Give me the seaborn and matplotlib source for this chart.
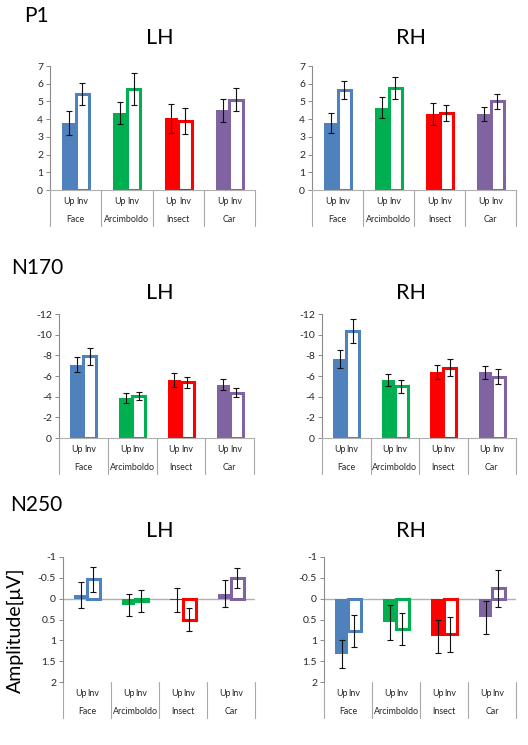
import numpy as np
import pandas as pd
import seaborn as sns
import matplotlib
matplotlib.use("Agg")
import matplotlib.pyplot as plt
from matplotlib.transforms import blended_transform_factory

sns.set_style("white")
plt.rcParams['font.family'] = ['Lato', 'DejaVu Sans']

categories = ['Face', 'Arcimboldo', 'Insect', 'Car']
conditions = ['Up', 'Inv']
cat_colors = ['#4F81BD', '#00B050', '#FF0000', '#8064A2']

# P1 (µV)
p1_lh_up = [3.8, 4.35, 4.05, 4.5]
p1_lh_inv = [5.4, 5.7, 3.9, 5.1]
p1_lh_up_err = [0.67, 0.62, 0.83, 0.65]
p1_lh_inv_err = [0.62, 0.92, 0.72, 0.65]
p1_rh_up = [3.8, 4.65, 4.3, 4.3]
p1_rh_inv = [5.65, 5.75, 4.35, 5.0]
p1_rh_up_err = [0.57, 0.58, 0.62, 0.4]
p1_rh_inv_err = [0.52, 0.62, 0.45, 0.42]

# N170
n170_lh_up = [-7.1, -3.9, -5.6, -5.15]
n170_lh_inv = [-7.9, -4.1, -5.4, -4.4]
n170_lh_up_err = [0.75, 0.5, 0.7, 0.55]
n170_lh_inv_err = [0.8, 0.4, 0.55, 0.45]
n170_rh_up = [-7.65, -5.6, -6.4, -6.35]
n170_rh_inv = [-10.35, -5.0, -6.8, -5.95]
n170_rh_up_err = [0.9, 0.6, 0.7, 0.65]
n170_rh_inv_err = [1.15, 0.65, 0.8, 0.7]

# N250
n250_lh_up = [-0.08, 0.15, 0.03, -0.12]
n250_lh_inv = [-0.47, 0.05, 0.5, -0.5]
n250_lh_up_err = [0.31, 0.26, 0.29, 0.32]
n250_lh_inv_err = [0.3, 0.26, 0.27, 0.24]
n250_rh_up = [1.32, 0.56, 0.9, 0.45]
n250_rh_inv = [0.77, 0.73, 0.85, -0.25]
n250_rh_up_err = [0.34, 0.42, 0.4, 0.4]
n250_rh_inv_err = [0.38, 0.39, 0.42, 0.45]

p1_ticks = [0, 1, 2, 3, 4, 5, 6, 7]
n170_ticks = [0, -2, -4, -6, -8, -10, -12]
n250_ticks = [-1, -0.5, 0, 0.5, 1, 1.5, 2]

W, H = 528, 745
fig = plt.figure(figsize=(W / 100, H / 100), dpi=100)

GRAY = '#8C8C8C'
TXT = '#262626'


def add_ax(x0, x1, y0, y1):
    return fig.add_axes([x0 / W, 1 - y1 / H, (x1 - x0) / W, (y1 - y0) / H])


def fmt(v):
    return ('%g' % v)


def panel(ax, up, inv, up_err, inv_err, ticks, ylim, zero_line=False):
    df = pd.DataFrame({
        'category': categories * 2,
        'condition': ['Up'] * 4 + ['Inv'] * 4,
        'value': up + inv,
    })
    sns.barplot(data=df, x='category', y='value', hue='condition',
                order=categories, hue_order=conditions, width=0.53,
                errorbar=None, legend=False, ax=ax, saturation=1)
    bars = sorted(ax.patches, key=lambda p: p.get_x())
    vals = []
    errs = []
    xs = []
    for i, p in enumerate(bars):
        ci, hi = divmod(i, 2)
        col = cat_colors[ci]
        if hi == 0:
            p.set_facecolor(col)
            p.set_edgecolor(col)
            p.set_linewidth(0)
            vals.append(up[ci]); errs.append(up_err[ci])
        else:
            p.set_facecolor('white')
            p.set_edgecolor(col)
            p.set_linewidth(2.2)
            p.set_joinstyle('miter')
            vals.append(inv[ci]); errs.append(inv_err[ci])
        xs.append(p.get_x() + p.get_width() / 2)
    ax.errorbar(xs, vals, yerr=errs, fmt='none', ecolor='#111111',
                elinewidth=0.8, capsize=2.0, capthick=0.8, zorder=5)

    ax.set_xlim(-0.5, len(categories) - 0.5)
    ax.set_ylim(*ylim)
    ax.set_yticks(ticks)
    ax.set_yticklabels([fmt(t) for t in ticks], fontsize=7.5, color=TXT)
    ax.tick_params(axis='y', length=3, width=0.7, color=GRAY, pad=2, left=True)
    ax.set_xticks([])
    ax.set_xlabel('')
    ax.set_ylabel('')
    for s in ['top', 'right']:
        ax.spines[s].set_visible(False)
    ax.spines['left'].set_color(GRAY)
    ax.spines['left'].set_linewidth(0.8)
    if zero_line:
        ax.spines['bottom'].set_visible(False)
        ax.axhline(0, color='#B0B0B0', lw=1.0, zorder=0.5)
    else:
        ax.spines['bottom'].set_color('#B0B0B0')
        ax.spines['bottom'].set_linewidth(0.8)

    trans = blended_transform_factory(ax.transData, ax.transAxes)
    hpx = ax.get_position().height * H
    depth = 36.0 / hpx
    for b in np.arange(-0.5, len(categories), 1.0):
        ax.plot([b, b], [0, -depth], transform=trans, color='#A8A8A8',
                lw=0.8, clip_on=False)
    for x, lab in zip(xs, conditions * len(categories)):
        ax.annotate(lab, xy=(x, 0), xycoords=trans, xytext=(0, -8.6),
                    textcoords='offset points', ha='center', va='center',
                    fontsize=6.4, color=TXT)
    for ci, cat in enumerate(categories):
        ax.annotate(cat, xy=(ci, 0), xycoords=trans, xytext=(0, -21.6),
                    textcoords='offset points', ha='center', va='center',
                    fontsize=6.4, color=TXT)


ax1 = add_ax(50, 255, 66, 190)
panel(ax1, p1_lh_up, p1_lh_inv, p1_lh_up_err, p1_lh_inv_err, p1_ticks, (0, 7))
ax2 = add_ax(312, 516, 66, 190)
panel(ax2, p1_rh_up, p1_rh_inv, p1_rh_up_err, p1_rh_inv_err, p1_ticks, (0, 7))

ax3 = add_ax(59, 254, 314, 438)
panel(ax3, n170_lh_up, n170_lh_inv, n170_lh_up_err, n170_lh_inv_err, n170_ticks, (0, -12))
ax4 = add_ax(322, 516, 314, 438)
panel(ax4, n170_rh_up, n170_rh_inv, n170_rh_up_err, n170_rh_inv_err, n170_ticks, (0, -12))

ax5 = add_ax(63, 255, 557, 682)
panel(ax5, n250_lh_up, n250_lh_inv, n250_lh_up_err, n250_lh_inv_err, n250_ticks, (2, -1), zero_line=True)
ax6 = add_ax(324, 516, 557, 682)
panel(ax6, n250_rh_up, n250_rh_inv, n250_rh_up_err, n250_rh_inv_err, n250_ticks, (2, -1), zero_line=True)


def ftext(x, y, s, size, **kw):
    fig.text(x / W, 1 - y / H, s, fontsize=size, color='black', ha='center',
             va='center', **kw)


ftext(36, 16, 'P1', 15)
ftext(160, 38, 'LH', 15.5)
ftext(411, 38, 'RH', 15.5)
ftext(37, 268, 'N170', 15)
ftext(160, 293, 'LH', 15.5)
ftext(411, 293, 'RH', 15.5)
ftext(36, 505, 'N250', 15)
ftext(160, 531, 'LH', 15.5)
ftext(411, 531, 'RH', 15.5)
ftext(15, 630, 'Amplitude[μV]', 14, rotation=90)

fig.savefig('out.png', dpi=100)
